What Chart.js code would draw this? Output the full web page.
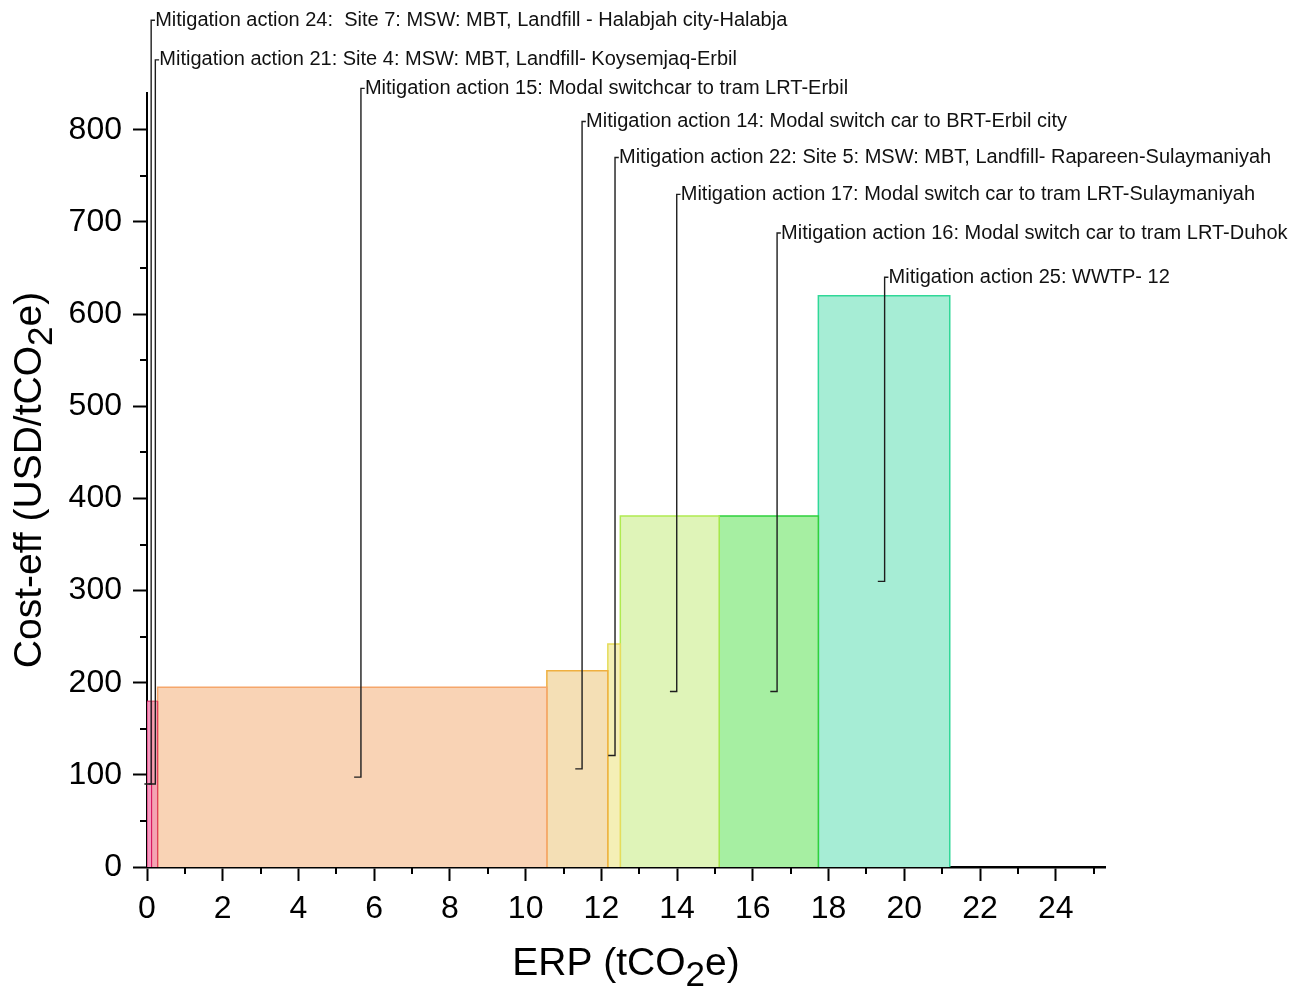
<!DOCTYPE html>
<html>
<head>
<meta charset="utf-8">
<title>Cost-effectiveness curve</title>
<script src="https://cdn.jsdelivr.net/npm/chart.js"></script>
<style>
  html, body { margin: 0; padding: 0; background: #fff; }
  #wrap { width: 1299px; height: 989px; position: relative; }
</style>
</head>
<body>
<div id="wrap"><canvas id="macc"></canvas></div>
<script>
// Mitigation actions, in the order they sit along the x axis
const actions = ['24', '21', '15', '14', '22', '17', '16', '25'];
const actionLabels = [
    'Mitigation action 24:  Site 7: MSW: MBT, Landfill - Halabjah city-Halabja',
    'Mitigation action 21: Site 4: MSW: MBT, Landfill- Koysemjaq-Erbil',
    'Mitigation action 15: Modal switchcar to tram LRT-Erbil',
    'Mitigation action 14: Modal switch car to BRT-Erbil city',
    'Mitigation action 22: Site 5: MSW: MBT, Landfill- Rapareen-Sulaymaniyah',
    'Mitigation action 17: Modal switch car to tram LRT-Sulaymaniyah',
    'Mitigation action 16: Modal switch car to tram LRT-Duhok',
    'Mitigation action 25: WWTP- 12'
];
// bar width = ERP (tCO2e), bar height = cost-effectiveness (USD/tCO2e)
const erp = [0.12, 0.16, 10.28, 1.61, 0.33, 2.61, 2.62, 3.47];
const costEff = [180, 180, 195, 213, 242, 381, 381, 620];

// callout leader lines (data units): x of the vertical line, y where the label sits
const calloutX = [0.11, 0.22, 5.65, 11.49, 12.36, 13.99, 16.64, 19.48];
const calloutY = [919, 876, 845, 809, 770, 730, 688, 640];

const xTicks = [0, 2, 4, 6, 8, 10, 12, 14, 16, 18, 20, 22, 24];
const yTicks = [0, 100, 200, 300, 400, 500, 600, 700, 800];

const fills = ['#f59bc0', '#f4a3b2', '#f9d3b5', '#f4dfb5', '#f4efb6', '#dff4b8', '#a6efa2', '#a6edd5'];
const borders = ['#d81b60', '#e0405a', '#f5a66b', '#efb040', '#e6dc5a', '#b0ea50', '#2ed13d', '#30d898'];

const FONT = '"Liberation Sans", Arial, sans-serif';

// build one closed rectangle per action, stacked side by side
let start = 0;
const barSets = erp.map((w, i) => {
    const x0 = start, x1 = start + w;
    start = x1;
    return {
        label: 'Action ' + actions[i],
        data: [{x: x0, y: 0}, {x: x0, y: costEff[i]}, {x: x1, y: costEff[i]}, {x: x1, y: 0}],
        showLine: true,
        fill: 'origin',
        backgroundColor: fills[i],
        borderColor: borders[i],
        borderWidth: i < 2 ? 1 : 1.5,
        tension: 0
    };
});

const calloutSets = calloutX.map((cx, i) => ({
    label: 'Callout ' + actions[i],
    data: [
        {x: cx - 0.18, y: costEff[i] / 2},
        {x: cx, y: costEff[i] / 2},
        {x: cx, y: calloutY[i]},
        {x: cx + 0.1, y: calloutY[i]}
    ],
    showLine: true,
    fill: false,
    borderColor: '#1e1e1e',
    borderWidth: 1.4,
    clip: false,
    tension: 0
}));

// short minor ticks between the labelled ones
const minorTicks = {
    id: 'minorTicks',
    afterDraw(chart) {
        const {ctx, scales: {x, y}} = chart;
        ctx.save();
        ctx.strokeStyle = '#000';
        ctx.lineWidth = 2;
        ctx.beginPath();
        for (let v = 1; v <= 25; v += 2) {
            const px = Math.round(x.getPixelForValue(v));
            ctx.moveTo(px, y.bottom);
            ctx.lineTo(px, y.bottom + 7);
        }
        for (let v = 50; v < 840; v += 100) {
            const py = Math.round(y.getPixelForValue(v));
            ctx.moveTo(x.left, py);
            ctx.lineTo(x.left - 7, py);
        }
        ctx.stroke();
        ctx.restore();
    }
};

// callout texts next to the top of each leader line
const calloutText = {
    id: 'calloutText',
    afterDatasetsDraw(chart) {
        const {ctx, scales: {x, y}} = chart;
        ctx.save();
        ctx.font = '20px ' + FONT;
        ctx.fillStyle = '#111';
        ctx.textBaseline = 'middle';
        ctx.textAlign = 'left';
        actionLabels.forEach((t, i) => {
            ctx.fillText(t, x.getPixelForValue(calloutX[i]) + 4, y.getPixelForValue(calloutY[i]));
        });
        ctx.restore();
    }
};

// axis titles with a real subscript 2
function drawSubTitle(ctx, before, sub, after, cx, baseY) {
    const big = '39px ' + FONT, small = '35px ' + FONT;
    ctx.font = big;
    const w1 = ctx.measureText(before).width, w3 = ctx.measureText(after).width;
    ctx.font = small;
    const w2 = ctx.measureText(sub).width;
    let x0 = cx - (w1 + w2 + w3) / 2;
    ctx.font = big;
    ctx.fillText(before, x0, baseY);
    ctx.font = small;
    ctx.fillText(sub, x0 + w1, baseY + 11);
    ctx.font = big;
    ctx.fillText(after, x0 + w1 + w2, baseY);
}
const axisTitles = {
    id: 'axisTitles',
    afterDraw(chart) {
        const {ctx, scales: {x, y}} = chart;
        ctx.save();
        ctx.fillStyle = '#000';
        ctx.textBaseline = 'alphabetic';
        ctx.textAlign = 'left';
        drawSubTitle(ctx, 'ERP (tCO', '2', 'e)', (x.left + x.right) / 2, 975);
        ctx.translate(41, (y.top + y.bottom) / 2);
        ctx.rotate(-Math.PI / 2);
        drawSubTitle(ctx, 'Cost-eff (USD/tCO', '2', 'e)', 0, 0);
        ctx.restore();
    }
};

const ctx = document.getElementById('macc').getContext('2d');
const macc = new Chart(ctx, {
    type: 'scatter',
    data: { datasets: calloutSets.concat(barSets) },
    options: {
        responsive: true,
        maintainAspectRatio: false,
        animation: false,
        layout: { padding: { top: 93, right: 194, left: 0, bottom: 0 } },
        elements: { point: { radius: 0, hoverRadius: 0 } },
        plugins: {
            legend: { display: false },
            tooltip: { enabled: false }
        },
        scales: {
            x: {
                type: 'linear',
                min: 0,
                max: 25.3,
                z: 1,
                afterFit: s => { s.height = 122; },
                afterBuildTicks: s => { s.ticks = xTicks.map(v => ({value: v})); },
                ticks: { color: '#000', font: { family: FONT, size: 32 }, padding: 9, maxRotation: 0 },
                grid: { drawOnChartArea: false, tickLength: 14, tickColor: '#000', tickWidth: 2 },
                border: { color: '#000', width: 2.5 }
            },
            y: {
                type: 'linear',
                min: 0,
                max: 840,
                z: 1,
                afterFit: s => { s.width = 147; },
                afterBuildTicks: s => { s.ticks = yTicks.map(v => ({value: v})); },
                ticks: { color: '#000', font: { family: FONT, size: 32 }, padding: 11 },
                grid: { drawOnChartArea: false, tickLength: 14, tickColor: '#000', tickWidth: 2 },
                border: { color: '#000', width: 2 }
            }
        }
    },
    plugins: [minorTicks, calloutText, axisTitles]
});
</script>
</body>
</html>
